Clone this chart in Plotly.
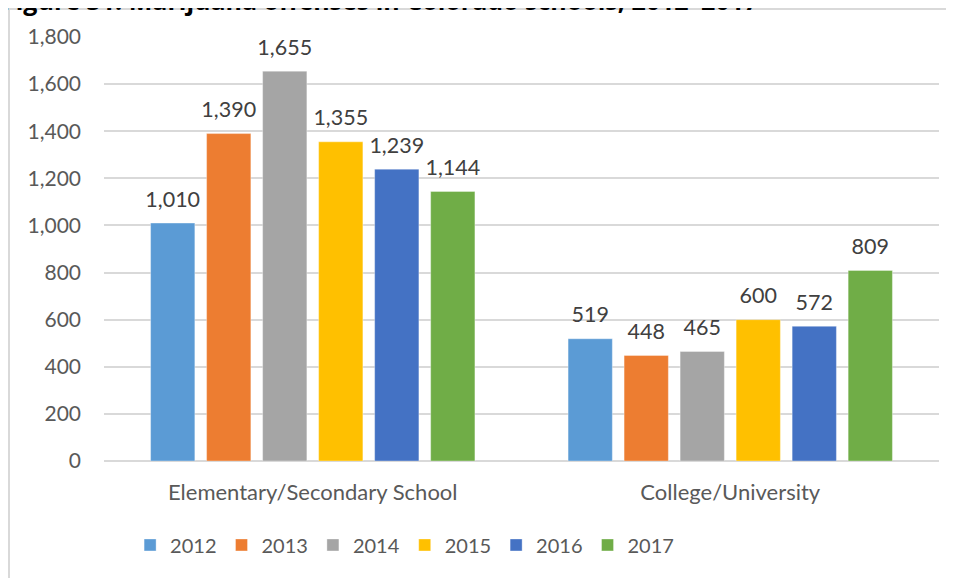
import plotly.graph_objects as go

categories = ["Elementary/Secondary School", "College/University"]
years = ["2012", "2013", "2014", "2015", "2016", "2017"]
values = {
    "2012": [1010, 519],
    "2013": [1390, 448],
    "2014": [1655, 465],
    "2015": [1355, 600],
    "2016": [1239, 572],
    "2017": [1144, 809],
}
colors = ["#5B9BD5", "#ED7D31", "#A5A5A5", "#FFC000", "#4472C4", "#70AD47"]
title = "Figure 31. Marijuana offenses in Colorado schools, 2012–2017"

FONT = "Lato, 'Open Sans', sans-serif"

fig = go.Figure()
for y, c in zip(years, colors):
    fig.add_trace(go.Bar(
        name=y, x=categories, y=values[y], marker_color=c,
        marker_line=dict(width=1, color="rgba(255,255,255,0.35)"), offsetgroup=y,
    ))
for y in years:
    fig.add_trace(go.Scatter(
        x=categories, y=values[y], mode="markers+text", offsetgroup=y,
        text=[f"{v:,}" for v in values[y]], textposition="top center",
        textfont=dict(size=21.5, color="#404040", family=FONT),
        marker=dict(size=16, opacity=0), showlegend=False, hoverinfo="skip",
        cliponaxis=False,
    ))

fig.update_layout(
    width=954, height=578,
    margin=dict(l=96, r=23, t=29, b=125),
    paper_bgcolor="white", plot_bgcolor="white",
    barmode="group", bargap=0.195, bargroupgap=0.21,
    scattermode="group", scattergap=0.195,
    font=dict(family=FONT, color="#595959", size=21),
    showlegend=True,
    legend=dict(orientation="h", x=0.36, xanchor="center", y=-0.198, yanchor="middle",
                font=dict(size=20, color="#595959"), traceorder="normal"),
    xaxis=dict(showgrid=False, showline=False, ticks="", tickfont=dict(size=22),
               ticklabelstandoff=16),
    yaxis=dict(range=[0, 1800], dtick=200, tickformat=",", showgrid=True,
               gridcolor="#D9D9D9", gridwidth=2, zeroline=True, zerolinecolor="#D9D9D9",
               zerolinewidth=2, ticks="", ticklabelstandoff=22, tickfont=dict(size=21)),
    shapes=[dict(type="rect", xref="paper", yref="paper", x0=-0.1138, x1=1.2, y0=-0.4, y1=1.066,
                 line=dict(color="#D9D9D9", width=2), fillcolor="rgba(0,0,0,0)", layer="below")],
    annotations=[dict(text=f"<b>{title}</b>", xref="paper", yref="paper", x=-0.1246, xanchor="left",
                      y=1.0425, yanchor="bottom", showarrow=False,
                      font=dict(size=25, color="black", family="'Open Sans', sans-serif"))],
)

fig.write_html("out.html")
